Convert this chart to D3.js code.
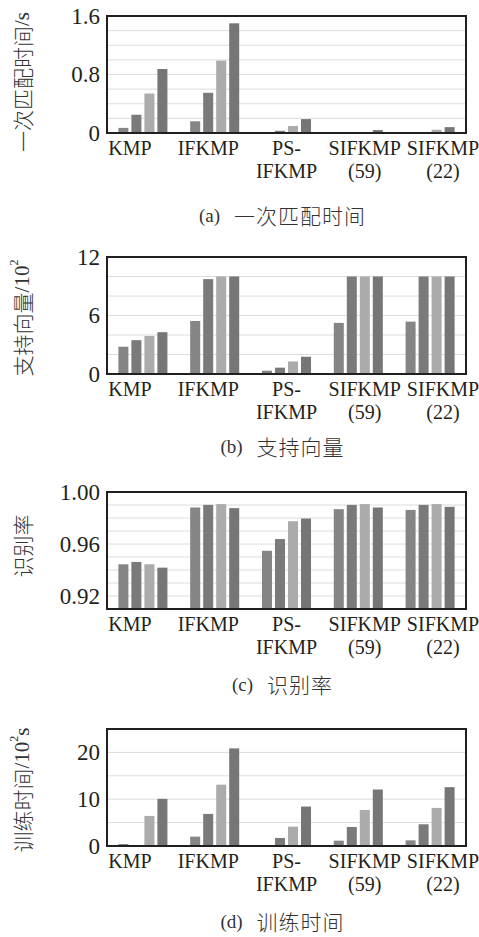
<!DOCTYPE html>
<html>
<head>
<meta charset="utf-8">
<script src="https://cdn.jsdelivr.net/npm/d3@7"></script>
<style>
  body { margin: 0; background: #fff; }
  svg { display: block; }
</style>
</head>
<body>
<div id="container"></div>
<script>
const w = 479,
  h = 937,
  plotLeft = 107,
  plotRight = 466,
  plotHeight = 117;

// categories and label lines
const groups = ['KMP', 'IFKMP', 'PS-IFKMP', 'SIFKMP(59)', 'SIFKMP(22)'];
const groupLines = [['KMP'], ['IFKMP'], ['PS-', 'IFKMP'], ['SIFKMP', '(59)'], ['SIFKMP', '(22)']];
const series = ['s1', 's2', 's3', 's4'];
const seriesColors = ['#858585', '#7a7a7a', '#ababab', '#767676'];

// (a) 一次匹配时间 /s
const matchTime = [
  [0.07, 0.25, 0.54, 0.875],
  [0.16, 0.55, 0.99, 1.5],
  [0, 0.03, 0.095, 0.19],
  [0, 0, 0.006, 0.04],
  [0, 0.01, 0.045, 0.08],
];
const matchTicks = [0, 0.8, 1.6];
const matchGrid = [0.2, 0.4, 0.6, 0.8, 1.0, 1.2, 1.4];

// (b) 支持向量 /10^2
const supportVec = [
  [2.8, 3.47, 3.9, 4.29],
  [5.44, 9.73, 10, 10],
  [0.34, 0.65, 1.29, 1.77],
  [5.24, 10, 10, 10],
  [5.37, 10, 10, 10],
];
const supportTicks = [0, 6, 12];
const supportGrid = [2, 4, 6, 8, 10];

// (c) 识别率
const recogRate = [
  [0.9444, 0.9462, 0.9444, 0.9418],
  [0.9881, 0.9901, 0.9907, 0.9876],
  [0.9548, 0.9638, 0.9775, 0.9796],
  [0.9868, 0.9901, 0.9907, 0.9881],
  [0.9862, 0.9901, 0.9907, 0.9886],
];
const recogTicks = [0.92, 0.96, 1.0];
const recogGrid = [0.92, 0.93, 0.94, 0.95, 0.96, 0.97, 0.98, 0.99];

// (d) 训练时间 /10^2 s
const trainTime = [
  [0.43, 0, 6.43, 10.07],
  [2.0, 6.86, 13.1, 20.86],
  [0.2, 1.71, 4.14, 8.43],
  [1.14, 4.07, 7.71, 12.07],
  [1.21, 4.64, 8.14, 12.57],
];
const trainTicks = [0, 10, 20];
const trainGrid = [5, 10, 15, 20];

const panels = [
  { top: 16, values: matchTime, domain: [0, 1.6], ticks: matchTicks, grid: matchGrid, fmt: (d) => (d === 0 ? '0' : d3.format('.1f')(d)),
    title: [['一次匹配时间', 'cjk'], ['/s', 'lat']], titleY: 82, letter: '(a)', caption: '一次匹配时间', captionY: 215 },
  { top: 257, values: supportVec, domain: [0, 12], ticks: supportTicks, grid: supportGrid, fmt: d3.format('d'),
    title: [['支持向量', 'cjk'], ['/10', 'lat'], ['2', 'sup']], titleY: 318, letter: '(b)', caption: '支持向量', captionY: 446 },
  { top: 492, values: recogRate, domain: [0.91, 1.0], ticks: recogTicks, grid: recogGrid, fmt: d3.format('.2f'),
    title: [['识别率', 'cjk']], titleY: 546, letter: '(c)', caption: '识别率', captionY: 684 },
  { top: 729, values: trainTime, domain: [0, 25], ticks: trainTicks, grid: trainGrid, fmt: d3.format('d'),
    title: [['训练时间', 'cjk'], ['/10', 'lat'], ['2', 'sup'], ['s', 'lat']], titleY: 790, letter: '(d)', caption: '训练时间', captionY: 921 },
];

const cjkFont = '"Noto Sans CJK SC", "Noto Sans", sans-serif';
const serifFont = '"Liberation Serif", "Times New Roman", Times, serif';
const ink = '#231f20';

const svg = d3
  .select('#container')
  .append('svg')
  .attr('width', w)
  .attr('height', h);

const x0 = d3.scaleBand().domain(groups).range([plotLeft, plotRight]);
const x1 = d3
  .scaleBand()
  .domain(series)
  .range([0, x0.bandwidth()])
  .paddingInner(0.23)
  .paddingOuter(0.875);
const xLabel = d3.scalePoint().domain(groups).range([plotLeft + 23, plotRight - 23]);
const color = d3.scaleOrdinal().domain(series).range(seriesColors);

panels.forEach((p) => {
  const bottom = p.top + plotHeight;
  const y = d3.scaleLinear().domain(p.domain).range([bottom, p.top]);
  const g = svg.append('g');

  // gridlines
  g.selectAll('line.grid')
    .data(p.grid)
    .enter()
    .append('line')
    .attr('class', 'grid')
    .attr('x1', plotLeft)
    .attr('x2', plotRight)
    .attr('y1', (d) => y(d))
    .attr('y2', (d) => y(d))
    .attr('stroke', '#dcdcdc')
    .attr('stroke-width', 1);

  // bars
  const rows = p.values.map((vals, i) => ({ group: groups[i], vals: vals }));
  g.selectAll('g.grp')
    .data(rows)
    .enter()
    .append('g')
    .attr('class', 'grp')
    .attr('transform', (d) => 'translate(' + x0(d.group) + ',0)')
    .selectAll('rect')
    .data((d) => d.vals.map((v, j) => ({ key: series[j], v: v })))
    .enter()
    .append('rect')
    .attr('x', (d) => x1(d.key))
    .attr('width', x1.bandwidth())
    .attr('y', (d) => y(d.v))
    .attr('height', (d) => y(p.domain[0]) - y(d.v))
    .attr('fill', (d) => color(d.key));

  // frame
  g.append('rect')
    .attr('x', plotLeft)
    .attr('y', p.top)
    .attr('width', plotRight - plotLeft)
    .attr('height', plotHeight)
    .attr('fill', 'none')
    .attr('stroke', ink)
    .attr('stroke-width', 2);

  // y axis
  const yAxis = d3.axisLeft(y).tickValues(p.ticks).tickSize(0).tickPadding(7).tickFormat(p.fmt);
  const ax = g
    .append('g')
    .attr('transform', 'translate(' + plotLeft + ',0)')
    .call(yAxis)
    .attr('font-family', serifFont)
    .attr('font-size', 23);
  ax.select('.domain').remove();
  ax.selectAll('text').attr('fill', ink);

  // category labels
  const lab = g
    .selectAll('text.cat')
    .data(groups)
    .enter()
    .append('text')
    .attr('class', 'cat')
    .attr('x', (d) => xLabel(d))
    .attr('y', bottom + 22)
    .attr('text-anchor', 'middle')
    .attr('font-family', serifFont)
    .attr('font-size', 20)
    .attr('fill', ink);
  lab.selectAll('tspan')
    .data((d, i) => groupLines[i])
    .enter()
    .append('tspan')
    .attr('x', function () { return this.parentNode.getAttribute('x'); })
    .attr('dy', (d, i) => (i === 0 ? 0 : 23))
    .text((d) => d);

  // y title (rotated)
  const t = g
    .append('text')
    .attr('transform', 'translate(22,' + p.titleY + ') rotate(-90)')
    .attr('text-anchor', 'middle')
    .attr('dominant-baseline', 'central')
    .attr('fill', '#333');
  p.title.forEach((part, k) => {
    const s = t.append('tspan').text(part[0]);
    if (part[1] === 'cjk') s.attr('font-family', cjkFont).attr('font-size', 21).attr('font-weight', 300);
    else if (part[1] === 'lat') s.attr('font-family', serifFont).attr('font-size', 21);
    else s.attr('font-family', serifFont).attr('font-size', 12).attr('dy', -8);
    if (part[1] === 'lat' && k > 0 && p.title[k - 1][1] === 'sup') s.attr('dy', 8);
  });

  // caption
  const c = g
    .append('text')
    .attr('x', (plotLeft + plotRight) / 2 - 4)
    .attr('y', p.captionY)
    .attr('text-anchor', 'middle')
    .attr('dominant-baseline', 'central')
    .attr('fill', '#333');
  c.append('tspan').attr('font-family', serifFont).attr('font-size', 19).text(p.letter);
  c.append('tspan')
    .attr('dx', 14)
    .attr('font-family', cjkFont)
    .attr('font-size', 21)
    .attr('font-weight', 300)
    .attr('letter-spacing', 1)
    .text(p.caption);
});
</script>
</body>
</html>
